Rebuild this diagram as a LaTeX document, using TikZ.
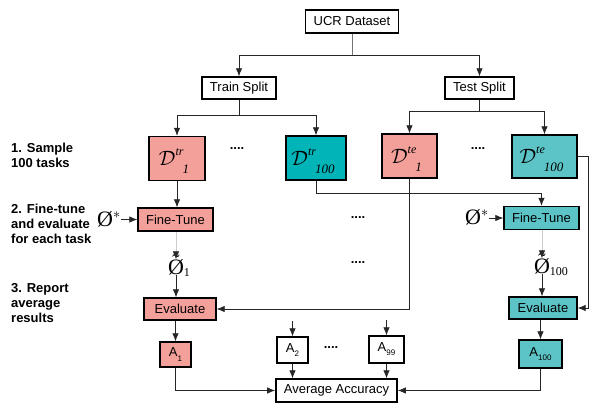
\documentclass[tikz,border=0pt]{standalone}
\usepackage{amsmath}
\usepackage{fontspec}
\setmainfont{Liberation Sans}
\newfontfamily\serif{Liberation Serif}
\usepackage{tikz}
\usetikzlibrary{arrows,arrows.meta,calc,positioning}
\definecolor{salmon}{HTML}{F4A09A}
\definecolor{tealdark}{HTML}{00B4B8}
\definecolor{teallight}{HTML}{5CC4C7}
\tikzset{
        block/.style = {draw, rectangle, line width=1.4pt,
            font=\fontsize{13}{15}\selectfont,
            minimum height=23pt, inner xsep=8pt},
        dblock/.style = {block, minimum height=44pt, minimum width=56pt,
            font=\fontsize{22}{24}\selectfont},
        ablock/.style = {block, minimum height=26pt, inner xsep=3pt},
        arrow/.style={draw, black!85, line width=0.8pt,
            -{Latex[length=8pt,width=6.5pt]}},
        line/.style = {draw, black!85, line width=0.8pt},
        faint/.style = {draw, black!20, line width=0.8pt,
            -{Latex[length=8pt,width=6.5pt,color=black!85]}},
        phi/.style = {inner sep=0pt, font=\fontsize{22}{24}\selectfont\serif},
        dots/.style = {font=\fontsize{13}{15}\selectfont\bfseries},
        stagelabel/.style = {anchor=west, align=left, inner sep=0pt,
            font=\fontsize{13}{15}\selectfont\bfseries},
    }
% dataset label: D^{split} with a lowered task index
\newcommand{\dset}[2]{\kern-6pt$\mathcal{D}$\smash{\raisebox{10pt}{\fontsize{12}{12}\selectfont\serif\itshape #1}}\kern-1pt\smash{\raisebox{-8pt}{\fontsize{13}{13}\selectfont\serif\itshape #2}}}
\newcommand{\acc}[1]{A\raisebox{-0.6ex}{\fontsize{8}{8}\selectfont #1}}
\newcommand{\phitune}[1]{\ooalign{\O\cr\hidewidth\raisebox{0.24em}{\char"02DC}\hidewidth\cr}\rlap{\smash{\raisebox{-2pt}{\fontsize{12}{12}\selectfont #1}}}}

\begin{document}
\begin{tikzpicture}[x=1pt,y=-1pt]
    \useasboundingbox (0,0) rectangle (598,406);

    % stages
    \node[stagelabel] (s1) at (11,155) {1. Sample\\100 tasks};
    \node[stagelabel] (s2) at (11,224) {2. Fine-tune\\and evaluate\\for each task};
    \node[stagelabel] (s3) at (11,303) {3. Report\\average\\results};

    % data
    \node[block] (ucr) at (352,21.5) {UCR Dataset};
    \node[block, minimum height=22pt] (train) at (239,88) {Train Split};
    \node[block, minimum height=22pt] (test) at (479.5,88) {Test Split};

    \node[dblock, fill=salmon] (dtr1) at (177,158.5) {\dset{tr}{1}};
    \node[dblock, fill=tealdark, minimum width=60pt] (dtr100) at (316,158) {\dset{tr}{100}};
    \node[dblock, fill=salmon, minimum width=55pt] (dte1) at (409.5,156) {\dset{te}{1}};
    \node[dblock, fill=teallight, minimum width=65pt, minimum height=43pt] (dte100) at (544.5,156.5) {\dset{te}{100}};
    \node[dots] (dtrdots) at (237,149) {....};
    \node[dots] (dtedots) at (478,149) {....};

    % fine-tune and evaluate
    \node[block, fill=salmon, minimum width=75pt] (ft1) at (175.5,219.5) {Fine-Tune};
    \node[block, fill=teallight, minimum width=75pt] (ft100) at (541.5,218) {Fine-Tune};
    \node[phi] (phistar1) at (109,219) {\O$^{*}$};
    \node[phi] (phistar100) at (477,217) {\O$^{*}$};
    \node[phi] (phi1) at (176,267) {\phitune{1}};
    \node[phi] (phi100) at (542,266) {\phitune{100}};
    \node[block, fill=salmon, minimum width=72pt, minimum height=22pt] (eval1) at (180,309) {Evaluate};
    \node[block, fill=teallight, minimum width=68pt, minimum height=22pt] (eval100) at (543,308) {Evaluate};
    \node[dots] (ftdots) at (358,218) {....};
    \node[dots] (phidots) at (358,263) {....};

    % accuracies
    \node[ablock, fill=salmon, minimum width=31pt, minimum height=25pt] (a1) at (175.5,354.5) {\acc{1}};
    \node[ablock, minimum width=31pt] (a2) at (292.5,350) {\acc{2}};
    \node[ablock, minimum width=35pt, minimum height=27pt] (a99) at (386.5,349.5) {\acc{99}};
    \node[ablock, fill=teallight, minimum width=43pt, minimum height=28pt] (a100) at (540.5,354) {\acc{100}};
    \node[dots] (adots) at (331,348) {....};
    \node[block, minimum width=120pt] (avg) at (336.5,390.5) {Average Accuracy};
    \coordinate (in2) at ($(a2.north)+(0,-15)$);
    \coordinate (in99) at ($(a99.north)+(0,-15)$);

    % connectors
    \draw[line, black!55] (ucr.south) -- ++(0,22) coordinate (ucrsplit);
    \draw[arrow] (ucrsplit) -| (train.north);
    \draw[arrow] (ucrsplit) -| (test.north);
    \draw[line] (train.south) -- ++(0,16) coordinate (trsplit);
    \draw[arrow] (trsplit) -| (dtr1.north);
    \draw[arrow] (trsplit) -| (dtr100.north);
    \draw[line] (test.south) -- ++(0,12) coordinate (tesplit);
    \draw[arrow] (tesplit) -| (dte1.north);
    \draw[arrow] (tesplit) -| (dte100.north);

    \draw[arrow] (dtr1.south) -- (dtr1.south |- ft1.north);
    \draw[arrow] (dtr100.south) -- ++(0,13) -| (ft100.north);
    \draw[arrow] (dte1.south) |- (eval1.east);
    \draw[arrow] (dte100.east) -- ++(11,0) |- (eval100.east);

    \draw[arrow] (phistar1.east |- ft1.west) -- (ft1.west);
    \draw[arrow] (phistar100.east |- ft100.west) -- (ft100.west);
    \draw[faint] (ft1.south -| phi1.north) -- (phi1.north);
    \draw[faint] (ft100.south -| phi100.north) -- (phi100.north);
    \draw[arrow] (phi1.south) -- (phi1.south |- eval1.north);
    \draw[arrow] (phi100.south) -- (phi100.south |- eval100.north);

    \draw[arrow] (a1 |- eval1.south) -- (a1.north);
    \draw[arrow] (a100 |- eval100.south) -- (a100.north);
    \draw[arrow] (in2) -- (a2.north);
    \draw[arrow] (in99) -- (a99.north);
    \draw[arrow] (a1.south) |- (avg.west);
    \draw[arrow] (a100.south) |- (avg.east);
    \draw[arrow] (a2.south) -- (a2.south |- avg.north);
    \draw[arrow] (a99.south) -- (a99.south |- avg.north);
\end{tikzpicture}
\end{document}
